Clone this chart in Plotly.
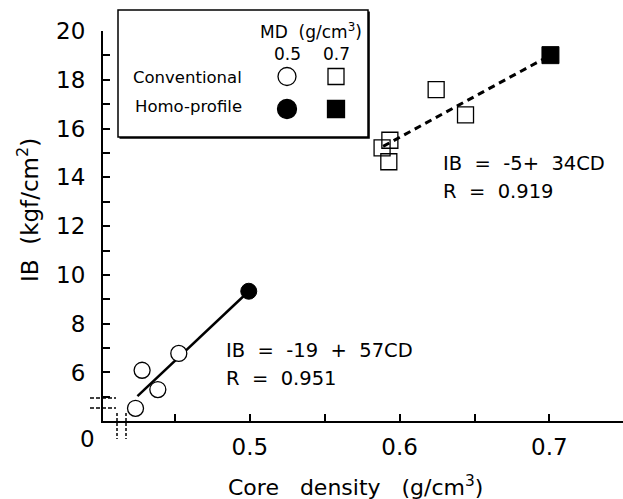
import plotly.graph_objects as go

# ---------------- data ----------------
conv05_cd = [0.4237, 0.4281, 0.4386, 0.4526]
conv05_ib = [4.53, 6.09, 5.30, 6.78]
homo05_cd = [0.4993]
homo05_ib = [9.33]
conv07_cd = [0.6244, 0.6440, 0.5935, 0.5883, 0.5928]
conv07_ib = [17.60, 16.56, 15.52, 15.21, 14.64]
homo07_cd = [0.7007]
homo07_ib = [19.01]
fit05_cd = [0.425, 0.4993]
fit05_ib = [5.03, 9.33]
fit07_cd = [0.589, 0.7007]
fit07_ib = [15.27, 19.01]

x_major_step, x_minor_step = 0.1, 0.05
y_major_step, y_minor_step = 2, 1

# ---------------- layout geometry ----------------
W, H = 623, 499
ML, MR, MT, MB = 103, 0, 31, 78
PW, PH = W - ML - MR, H - MT - MB
FONT = "DejaVu Sans"


def px(xp):
    return (xp - ML) / PW


def py(yp):
    return (H - MB - yp) / PH


fig = go.Figure()

fig.add_trace(go.Scatter(x=fit05_cd, y=fit05_ib, mode="lines",
                         line=dict(color="black", width=2.5), hoverinfo="skip"))
fig.add_trace(go.Scatter(x=fit07_cd, y=fit07_ib, mode="lines",
                         line=dict(color="black", width=3, dash="7px,5px"), hoverinfo="skip"))
fig.add_trace(go.Scatter(x=conv05_cd, y=conv05_ib, mode="markers",
                         marker=dict(symbol="circle", size=16, color="white",
                                     line=dict(color="black", width=1.3))))
fig.add_trace(go.Scatter(x=homo05_cd, y=homo05_ib, mode="markers",
                         marker=dict(symbol="circle", size=16, color="black",
                                     line=dict(color="black", width=1))))
fig.add_trace(go.Scatter(x=conv07_cd, y=conv07_ib, mode="markers",
                         marker=dict(symbol="square", size=16, color="rgba(255,255,255,0)",
                                     line=dict(color="black", width=1.3))))
fig.add_trace(go.Scatter(x=homo07_cd, y=homo07_ib, mode="markers",
                         marker=dict(symbol="square", size=17, color="black",
                                     line=dict(color="black", width=1))))

shapes = []
# legend box with shadow
shapes.append(dict(type="rect", xref="paper", yref="paper", layer="above",
                   x0=px(119.5), x1=px(369.8), y0=py(138.8), y1=py(11.5),
                   fillcolor="black", line=dict(width=0)))
shapes.append(dict(type="rect", xref="paper", yref="paper", layer="above",
                   x0=px(118), x1=px(368), y0=py(137), y1=py(10),
                   fillcolor="white", line=dict(color="black", width=1.5)))


def circ(cx, cy, d, filled):
    return dict(type="circle", xref="paper", yref="paper", layer="above",
                x0=px(cx - d / 2), x1=px(cx + d / 2), y0=py(cy + d / 2), y1=py(cy - d / 2),
                fillcolor="black" if filled else "white",
                line=dict(color="black", width=1.3))


def sq(cx, cy, d, filled):
    return dict(type="rect", xref="paper", yref="paper", layer="above",
                x0=px(cx - d / 2), x1=px(cx + d / 2), y0=py(cy + d / 2), y1=py(cy - d / 2),
                fillcolor="black" if filled else "white",
                line=dict(color="black", width=1.3))


shapes += [circ(287, 76.5, 18, False), sq(336, 76.5, 16, False),
           circ(287, 109, 19, True), sq(336, 109, 17, True)]

# axis break marks
for yy in (398, 408):
    shapes.append(dict(type="line", xref="paper", yref="paper", layer="above",
                       x0=px(90), x1=px(116), y0=py(yy), y1=py(yy),
                       line=dict(color="black", width=1.5, dash="4px,2px")))
for xx in (117, 126):
    shapes.append(dict(type="line", xref="paper", yref="paper", layer="above",
                       x0=px(xx), x1=px(xx), y0=py(413), y1=py(439),
                       line=dict(color="black", width=1.5, dash="3px,2px")))


def ann(text, x, y, size, xanchor="left", yanchor="middle", angle=0):
    return dict(text=text, x=x, y=y, xref="paper", yref="paper", showarrow=False,
                xanchor=xanchor, yanchor=yanchor, textangle=angle,
                font=dict(family=FONT, size=size, color="black"))


annotations = [
    ann("MD  (g/cm<sup>3</sup>)", px(364), py(31), 17, xanchor="right"),
    ann("0.5", px(287), py(54), 17, xanchor="center"),
    ann("0.7", px(336), py(54), 17, xanchor="center"),
    ann("Conventional", px(131), py(77), 16.5),
    ann("Homo-profile", px(133), py(107), 16.5),
    ann("IB  =  -5+  34CD", px(441), py(163), 19.5),
    ann("R  =  0.919", px(441), py(191), 19.5),
    ann("IB  =  -19  +  57CD", px(224), py(350), 19.5),
    ann("R  =  0.951", px(224), py(378), 19.5),
    ann("0", px(87), py(439), 23, xanchor="center"),
    ann("Core   density   (g/cm<sup>3</sup>)", px(355), py(486), 22, xanchor="center"),
    ann("IB  (kgf/cm<sup>2</sup>)", px(28), py(210), 23, xanchor="center", angle=-90),
]

axis_common = dict(showline=True, linecolor="black", linewidth=2, ticks="inside",
                   ticklen=7, tickwidth=1.5, tickcolor="black", showgrid=False,
                   zeroline=False, tickfont=dict(family=FONT, size=23, color="black"))

fig.update_layout(
    width=W, height=H, margin=dict(l=ML, r=MR, t=MT, b=MB),
    paper_bgcolor="white", plot_bgcolor="white", showlegend=False,
    xaxis=dict(range=[0.402, 0.402 + PW / 1498.0], tickmode="linear", tick0=0,
               dtick=x_major_step, tickformat=".1f", ticklabelstandoff=4,
               minor=dict(dtick=x_minor_step, tick0=0, ticks="inside", ticklen=7,
                          tickwidth=1.5, tickcolor="black", showgrid=False),
               **axis_common),
    yaxis=dict(range=[20 - PH / 24.39, 20], tickmode="linear", tick0=0,
               dtick=y_major_step, ticklabelstandoff=11,
               minor=dict(dtick=y_minor_step, tick0=0, ticks="inside", ticklen=7,
                          tickwidth=1.5, tickcolor="black", showgrid=False),
               **axis_common),
    shapes=shapes, annotations=annotations,
)

fig.write_html("out.html")
